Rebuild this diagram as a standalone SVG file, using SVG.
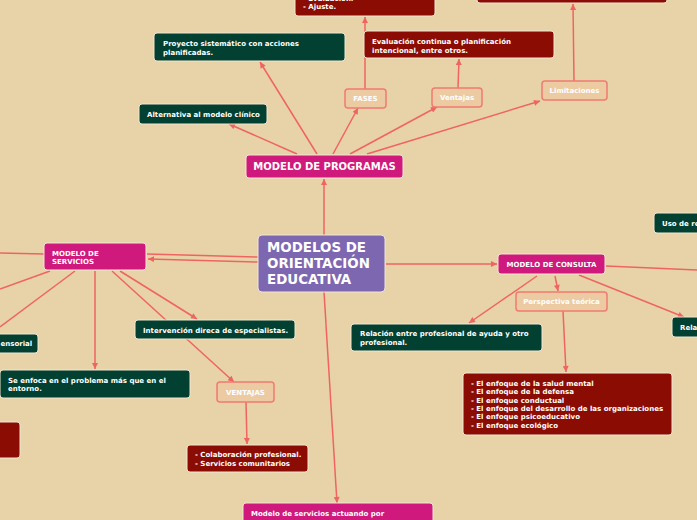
<svg xmlns="http://www.w3.org/2000/svg" width="697" height="520" viewBox="0 0 697 520">
<style>
.t{font-family:"DejaVu Sans","Verdana",sans-serif;font-weight:bold;fill:#ffffff;font-size:7px}
.g{fill:#024031;stroke:#f1e6d2;stroke-width:1}
.r{fill:#8b0c03;stroke:#f1e6d2;stroke-width:1}
.p{fill:#d0197c;stroke:#f1e6d2;stroke-width:1}
.l{fill:#eccba3;stroke:#ef7b72;stroke-width:1.5}
.c line{stroke:#ef6461;stroke-width:1.5;fill:none}
.a{marker-end:url(#ah)}
</style>
<defs>
<marker id="ah" viewBox="0 0 10 10" refX="10" refY="5" markerWidth="7" markerHeight="6" markerUnits="userSpaceOnUse" orient="auto"><path d="M0,0 L10,5 L0,10 z" fill="#ef6461"/></marker>
</defs>
<rect width="697" height="520" fill="#e8d3a8"/>
<g id="connectors" class="c">
<line class="a" x1="324" y1="235" x2="324" y2="179"/>
<line class="a" x1="297" y1="154" x2="229" y2="124"/>
<line class="a" x1="317" y1="154" x2="260" y2="62"/>
<line class="a" x1="333" y1="154" x2="358" y2="108"/>
<line class="a" x1="350" y1="154" x2="437" y2="107"/>
<line class="a" x1="367" y1="154" x2="540" y2="101"/>
<line class="a" x1="365" y1="89" x2="365" y2="17"/>
<line class="a" x1="458" y1="88" x2="459" y2="59"/>
<line class="a" x1="574" y1="81" x2="573" y2="4"/>
<line x1="258" y1="257" x2="147" y2="254"/>
<line class="a" x1="258" y1="262" x2="148" y2="259"/>
<line x1="44" y1="254" x2="0" y2="253"/>
<line x1="50" y1="271" x2="0" y2="289"/>
<line x1="75" y1="271" x2="0" y2="327"/>
<line class="a" x1="95" y1="271" x2="95" y2="369"/>
<line class="a" x1="120" y1="271" x2="197" y2="319"/>
<line class="a" x1="112" y1="271" x2="234" y2="382"/>
<line class="a" x1="246" y1="402" x2="247" y2="444"/>
<line class="a" x1="324" y1="292" x2="337" y2="503"/>
<line class="a" x1="386" y1="264" x2="497" y2="264"/>
<line x1="606" y1="266" x2="697" y2="270"/>
<line class="a" x1="537" y1="276" x2="469" y2="323"/>
<line class="a" x1="555" y1="276" x2="558" y2="291"/>
<line class="a" x1="579" y1="275" x2="684" y2="317"/>
<line class="a" x1="563" y1="311" x2="566" y2="372"/>
</g>
<g id="central">
<rect x="258" y="235" width="127" height="57" rx="4" fill="#7e67b1" stroke="#f1e6d2" stroke-width="1"/>
<text class="t" style="font-size:13.4px" x="267" y="252">MODELOS DE</text>
<text class="t" style="font-size:13.4px" x="267" y="268">ORIENTACIÓN</text>
<text class="t" style="font-size:13.4px" x="267" y="283.5">EDUCATIVA</text>
</g>
<g id="programas">
<rect class="p" x="246" y="155" width="157" height="23" rx="3"/>
<text class="t" style="font-size:10px" x="324.5" y="170" text-anchor="middle">MODELO DE PROGRAMAS</text>
</g>
<g id="fases-box">
<rect class="r" x="295" y="-20" width="140" height="36" rx="3"/>
<text class="t" x="303" y="0.5">- Evaluación.</text>
<text class="t" x="303" y="9">- Ajuste.</text>
</g>
<g id="limitaciones-box">
<rect class="r" x="477" y="-30" width="190" height="33" rx="3"/>
</g>
<g id="proyecto">
<rect class="g" x="154" y="33" width="191" height="28" rx="3"/>
<text class="t" x="163" y="46">Proyecto sistemático con acciones</text>
<text class="t" x="163" y="54.5">planificadas.</text>
</g>
<g id="evaluacion">
<rect class="r" x="364" y="31" width="190" height="27" rx="3"/>
<text class="t" x="372" y="44">Evaluación continua o planificación</text>
<text class="t" x="372" y="52.5">intencional, entre otros.</text>
</g>
<g id="alternativa">
<rect class="g" x="139" y="104" width="128" height="20" rx="3"/>
<text class="t" x="147" y="117">Alternativa al modelo clínico</text>
</g>
<g id="fases">
<rect class="l" x="345" y="89" width="41" height="19" rx="3"/>
<text class="t" x="365.5" y="101" text-anchor="middle">FASES</text>
</g>
<g id="ventajas">
<rect class="l" x="432" y="88" width="50" height="19" rx="3"/>
<text class="t" x="457" y="100" text-anchor="middle">Ventajas</text>
</g>
<g id="limitaciones">
<rect class="l" x="542" y="81" width="65" height="19" rx="3"/>
<text class="t" x="574.5" y="93" text-anchor="middle">Limitaciones</text>
</g>
<g id="servicios">
<rect class="p" x="44" y="243" width="102" height="27" rx="3"/>
<text class="t" x="52" y="255.5">MODELO DE</text>
<text class="t" x="52" y="264">SERVICIOS</text>
</g>
<g id="sensorial">
<rect class="g" x="-20" y="334" width="58" height="19" rx="3"/>
<text class="t" x="0.5" y="346">ensorial</text>
</g>
<g id="enfoca">
<rect class="g" x="0" y="370" width="190" height="28" rx="3"/>
<text class="t" x="8" y="382.7">Se enfoca en el problema más que en el</text>
<text class="t" x="8" y="391">entorno.</text>
</g>
<g id="intervencion">
<rect class="g" x="135" y="320" width="160" height="19" rx="3"/>
<text class="t" x="143" y="332.5">Intervención direca de especialistas.</text>
</g>
<g id="ventajas-servicios">
<rect class="l" x="217" y="382" width="57" height="20" rx="3"/>
<text class="t" x="245.5" y="394.5" text-anchor="middle">VENTAJAS</text>
</g>
<g id="colaboracion">
<rect class="r" x="187" y="445" width="121" height="27" rx="3"/>
<text class="t" x="195" y="457">- Colaboración profesional.</text>
<text class="t" x="195" y="465.5">- Servicios comunitarios</text>
</g>
<g id="left-red">
<rect class="r" x="-20" y="422" width="40" height="36" rx="3"/>
</g>
<g id="actuando">
<rect class="p" x="243" y="503" width="190" height="30" rx="3"/>
<text class="t" x="251" y="515.7">Modelo de servicios actuando  por</text>
</g>
<g id="consulta">
<rect class="p" x="498" y="254" width="107" height="20" rx="3"/>
<text class="t" x="551.5" y="266.7" text-anchor="middle">MODELO DE CONSULTA</text>
</g>
<g id="perspectiva">
<rect class="l" x="516" y="292" width="91" height="19" rx="3"/>
<text class="t" x="561.5" y="304" text-anchor="middle">Perspectiva teórica</text>
</g>
<g id="relacion">
<rect class="g" x="351" y="324" width="191" height="27" rx="3"/>
<text class="t" x="360" y="336">Relación entre profesional de ayuda y otro</text>
<text class="t" x="360" y="344.5">profesional.</text>
</g>
<g id="uso">
<rect class="g" x="654" y="213" width="60" height="20" rx="3"/>
<text class="t" x="662" y="226">Uso de re</text>
</g>
<g id="rela">
<rect class="g" x="672" y="317" width="40" height="20" rx="3"/>
<text class="t" x="680" y="330">Rela</text>
</g>
<g id="enfoques">
<rect class="r" x="463" y="373" width="209" height="62" rx="3"/>
<text class="t" x="471" y="386">- El enfoque de la salud mental</text>
<text class="t" x="471" y="394.3">- El enfoque de la defensa</text>
<text class="t" x="471" y="402.6">- El enfoque conductual</text>
<text class="t" x="471" y="410.9">- El enfoque del desarrollo de las organizaciones</text>
<text class="t" x="471" y="419.2">- El enfoque psicoeducativo</text>
<text class="t" x="471" y="427.5">- El enfoque ecológico</text>
</g>
</svg>
